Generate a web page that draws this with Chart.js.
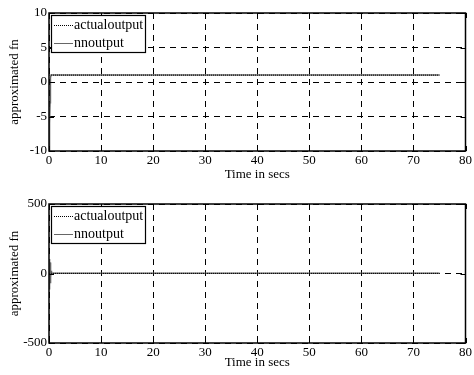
<!DOCTYPE html>
<html>
<head>
<meta charset="utf-8">
<script src="https://cdn.jsdelivr.net/npm/chart.js@4.4.0/dist/chart.umd.min.js"></script>
<style>
  html, body { margin: 0; padding: 0; background: #fff; }
  canvas { display: block; }
</style>
</head>
<body>
<canvas id="chartTop" width="474" height="187"></canvas>
<canvas id="chartBot" width="474" height="188"></canvas>
<script>
// --- dados ---
const legendLabels = ['actualoutput', 'nnoutput'];
const xTicks = [0, 10, 20, 30, 40, 50, 60, 70, 80];

// grafico de cima
const topTime   = [0, 0.05, 0.1, 0.15, 0.2, 0.25, 0.3, 0.4, 0.5, 1, 75];
const topActual = [1, 1, 1, 1, 1, 1, 1, 1, 1, 1, 1];
const topNN     = [-14, -12, -9, -6, -3, -1, 0.6, 1, 1, 1, 1];
const topYTicks = [-10, -5, 0, 5, 10];

// grafico de baixo
const botTime   = [0, 0.03, 0.06, 0.09, 0.12, 0.15, 0.18, 0.21, 0.24, 0.27, 0.3, 0.33, 0.36, 0.4, 0.45, 0.5, 1, 75];
const botActual = [1, 1, 1, 1, 1, 1, 1, 1, 1, 1, 1, 1, 1, 1, 1, 1, 1, 1];
const botNN     = [-110, 105, -100, 95, -95, 90, -85, 80, -70, 60, -50, 40, -30, 20, -10, 1, 1, 1];
const botYTicks = [-500, 0, 500];

const FONT = { family: "'Liberation Serif', 'Times New Roman', serif", size: 13 };
const LEG_FONT = "14px 'Liberation Serif', 'Times New Roman', serif";

function pts(xs, ys) {
    return xs.map((x, i) => ({ x: x, y: ys[i] }));
}

// caixa, marcas para dentro e legenda (estilo matlab)
const boxPlugin = {
    id: 'boxPlugin',
    afterDraw(chart) {
        const ctx = chart.ctx;
        const a = chart.chartArea;
        const sx = chart.scales.x, sy = chart.scales.y;
        ctx.save();
        ctx.strokeStyle = '#000';
        ctx.lineWidth = 1.5;
        ctx.setLineDash([]);
        ctx.strokeRect(a.left, a.top, a.right - a.left, a.bottom - a.top);
        ctx.lineWidth = 1;
        const tl = 5;
        ctx.beginPath();
        sx.ticks.forEach(t => {
            const px = Math.round(sx.getPixelForValue(t.value)) + 0.5;
            ctx.moveTo(px, a.bottom); ctx.lineTo(px, a.bottom - tl);
            ctx.moveTo(px, a.top); ctx.lineTo(px, a.top + tl);
        });
        sy.ticks.forEach(t => {
            const py = Math.round(sy.getPixelForValue(t.value)) + 0.5;
            ctx.moveTo(a.left, py); ctx.lineTo(a.left + tl, py);
            ctx.moveTo(a.right, py); ctx.lineTo(a.right - tl, py);
        });
        ctx.stroke();

        // legenda
        const bx = a.left + 2, by = a.top + 2, bw = 94, bh = 37;
        ctx.fillStyle = '#fff';
        ctx.fillRect(bx, by, bw, bh);
        ctx.lineWidth = 1.2;
        ctx.strokeStyle = '#000';
        ctx.strokeRect(bx + 0.5, by + 0.5, bw, bh);
        ctx.font = LEG_FONT;
        ctx.textBaseline = 'middle';
        ctx.textAlign = 'left';
        chart.data.datasets.forEach((ds, i) => {
            const ly = by + 10 + i * 18;
            ctx.beginPath();
            ctx.strokeStyle = ds.borderColor;
            ctx.lineWidth = 1;
            ctx.setLineDash(ds.borderDash || []);
            ctx.moveTo(bx + 3, ly + 0.5);
            ctx.lineTo(bx + 22, ly + 0.5);
            ctx.stroke();
            ctx.setLineDash([]);
            ctx.fillStyle = '#000';
            ctx.fillText(ds.label, bx + 23, ly);
        });
        ctx.restore();
    }
};

function makeChart(id, time, actual, nn, yTicks, ymin, ymax, top, xH) {
    return new Chart(document.getElementById(id), {
        type: 'line',
        data: {
            datasets: [
                { label: legendLabels[0], data: pts(time, actual), borderColor: '#000', borderWidth: 1,
                  borderDash: [1, 1], pointRadius: 0, tension: 0 },
                { label: legendLabels[1], data: pts(time, nn), borderColor: '#666', borderWidth: 1.5,
                  pointRadius: 0, tension: 0 }
            ]
        },
        options: {
            responsive: false,
            animation: false,
            layout: { padding: { left: 0, right: 7, top: top, bottom: 0 } },
            plugins: { legend: { display: false }, tooltip: { enabled: false } },
            scales: {
                x: {
                    type: 'linear', min: 0, max: 80,
                    afterBuildTicks: s => { s.ticks = xTicks.map(v => ({ value: v })); },
                    afterFit: s => { s.height = xH; },
                    grid: { color: '#000', lineWidth: 1, drawTicks: false },
                    border: { display: false, dash: [6, 5] },
                    ticks: { color: '#000', font: FONT, padding: 2, maxRotation: 0 },
                    title: { display: true, text: 'Time in secs', color: '#000', font: FONT,
                             padding: { top: 0, bottom: 5 } }
                },
                y: {
                    type: 'linear', min: ymin, max: ymax,
                    afterBuildTicks: s => { s.ticks = yTicks.map(v => ({ value: v })); },
                    afterFit: s => { s.width = 49; },
                    grid: { color: '#000', lineWidth: 1, drawTicks: false },
                    border: { display: false, dash: [6, 5] },
                    ticks: { color: '#000', font: FONT, padding: 2 },
                    title: { display: true, text: 'approximated fn', color: '#000', font: FONT,
                             padding: { top: 7, bottom: 0 } }
                }
            }
        },
        plugins: [boxPlugin]
    });
}

makeChart('chartTop', topTime, topActual, topNN, topYTicks, -10, 10, 13, 36);
makeChart('chartBot', botTime, botActual, botNN, botYTicks, -500, 500, 17, 32);
</script>
</body>
</html>
